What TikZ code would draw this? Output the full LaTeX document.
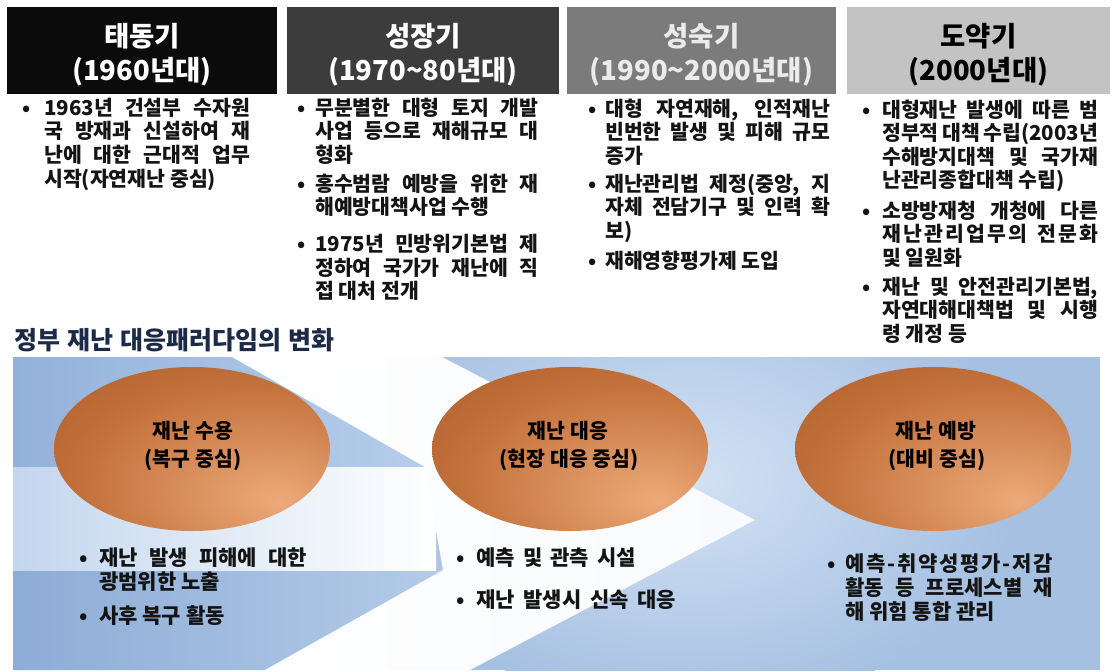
\documentclass[tikz,border=0pt]{standalone}
\usepackage{fontspec}
\setmainfont{Noto Sans CJK KR}
\usetikzlibrary{shapes.geometric}
\definecolor{hA}{HTML}{0B0B0B}
\definecolor{hB}{HTML}{3C3C3C}
\definecolor{hC}{HTML}{7B7B7B}
\definecolor{hD}{HTML}{C3C3C3}
\definecolor{txt}{HTML}{141414}
\definecolor{ttl}{HTML}{1C2A48}
\definecolor{pbase}{HTML}{A6C0E2}
\definecolor{pglow}{HTML}{D2E2F4}
\definecolor{ulL}{HTML}{93B2DA}
\definecolor{ulR}{HTML}{B6CDEA}
\definecolor{llL}{HTML}{8DACD6}
\definecolor{llR}{HTML}{B4CBE8}
\definecolor{bandL}{HTML}{C3D6EE}
\definecolor{ovL}{HTML}{ECAA7A}
\definecolor{ovM}{HTML}{C4723C}
\definecolor{ovD}{HTML}{96461A}
\pgfdeclareradialshading{ovalshade}{\pgfpoint{16bp}{-16bp}}{color(0bp)=(ovL); color(30bp)=(ovM); color(64bp)=(ovD); color(90bp)=(ovD)}
\tikzset{
  hbox/.style={rectangle, draw=none, minimum height=87pt, inner sep=0pt},
  htext/.style={font=\bfseries\fontsize{27.5}{34}\selectfont, align=center, inner sep=0pt},
  bt/.style={font=\bfseries\fontsize{20.5}{23}\selectfont, anchor=base west, inner sep=0pt, text=txt},
  bu/.style={font=\bfseries\fontsize{20.5}{23}\selectfont, anchor=base, inner sep=0pt, text=txt},
  lt/.style={font=\bfseries\fontsize{21}{24}\selectfont, anchor=base west, inner sep=0pt, text=txt},
  lu/.style={font=\bfseries\fontsize{21}{24}\selectfont, anchor=base, inner sep=0pt, text=txt},
  ot/.style={font=\bfseries\fontsize{20.5}{24}\selectfont, anchor=base, inner sep=0pt, text=black},
  oval/.style={ellipse, draw=none, minimum width=276pt, minimum height=164pt, inner sep=0pt, shading=ovalshade},
}
\begin{document}
\begin{tikzpicture}[x=1pt,y=-1pt]
\useasboundingbox (0,0) rectangle (1112,672);
\fill[white] (0,0) rectangle (1112,672);

% ---------- header boxes ----------
\node[hbox,fill=hA,minimum width=270pt] (hb1) at (142,50.5) {};
\node[hbox,fill=hB,minimum width=272pt] (hb2) at (423,50.5) {};
\node[hbox,fill=hC,minimum width=269pt] (hb3) at (701.5,50.5) {};
\node[hbox,fill=hD,minimum width=263pt] (hb4) at (978.5,50.5) {};
\node[htext,text=white] (ht1) at ([yshift=-4pt]hb1.center) {태동기\\(1960년대)};
\node[htext,text=white] (ht2) at ([yshift=-4pt]hb2.center) {성장기\\(1970\textasciitilde 80년대)};
\node[htext,text=white!92!black] (ht3) at ([yshift=-4pt]hb3.center) {성숙기\\(1990\textasciitilde 2000년대)};
\node[htext,text=black] (ht4) at ([yshift=-4pt]hb4.center) {도약기\\(2000년대)};

% ---------- column 1 ----------
\node[bu] (c1b1) at (27,115) {•};
\node[bt] (c1l1) at (44,115) {\makebox[206pt][s]{1963년 건설부 수자원}};
\node[bt] (c1l2) at (44,138.7) {\makebox[206pt][s]{국 방재과 신설하여 재}};
\node[bt] (c1l3) at (44,162.4) {\makebox[206pt][s]{난에 대한 근대적 업무}};
\node[bt] (c1l4) at (44,186.1) {시작(자연재난 중심)};

% ---------- column 2 ----------
\node[bu] (c2b1) at (302,115) {•};
\node[bt] (c2l1) at (315,115) {\makebox[223pt][s]{무분별한 대형 토지 개발}};
\node[bt] (c2l2) at (315,138.7) {\makebox[223pt][s]{사업 등으로 재해규모 대}};
\node[bt] (c2l3) at (315,162.4) {형화};
\node[bu] (c2b2) at (302,191) {•};
\node[bt] (c2l4) at (315,191) {\makebox[223pt][s]{홍수범람 예방을 위한 재}};
\node[bt] (c2l5) at (315,214.7) {해예방대책사업 수행};
\node[bu] (c2b3) at (302,251.5) {•};
\node[bt] (c2l6) at (315,251.5) {\makebox[223pt][s]{1975년 민방위기본법 제}};
\node[bt] (c2l7) at (315,275.2) {\makebox[223pt][s]{정하여 국가가 재난에 직}};
\node[bt] (c2l8) at (315,298.9) {접 대처 전개};

% ---------- column 3 ----------
\node[bu] (c3b1) at (593,116) {•};
\node[bt] (c3l1) at (605,116) {\makebox[225pt][s]{대형 자연재해, 인적재난}};
\node[bt] (c3l2) at (605,139.7) {\makebox[225pt][s]{빈번한 발생 및 피해 규모}};
\node[bt] (c3l3) at (605,163.4) {증가};
\node[bu] (c3b2) at (593,191) {•};
\node[bt] (c3l4) at (605,191) {\makebox[225pt][s]{재난관리법 제정(중앙, 지}};
\node[bt] (c3l5) at (605,214.7) {\makebox[225pt][s]{자체 전담기구 및 인력 확}};
\node[bt] (c3l6) at (605,238.4) {보)};
\node[bu] (c3b3) at (593,268.5) {•};
\node[bt] (c3l7) at (605,268.5) {재해영향평가제 도입};

% ---------- column 4 ----------
\node[bu] (c4b1) at (867,117) {•};
\node[bt] (c4l1) at (882,117) {\makebox[216pt][s]{대형재난 발생에 따른 범}};
\node[bt] (c4l2) at (882,140.5) {\makebox[216pt][s]{정부적 대책 수립(2003년}};
\node[bt] (c4l3) at (882,164) {\makebox[216pt][s]{수해방지대책 및 국가재}};
\node[bt] (c4l4) at (882,187.5) {난관리종합대책 수립)};
\node[bu] (c4b2) at (867,218) {•};
\node[bt] (c4l5) at (882,218) {\makebox[216pt][s]{소방방재청 개청에 다른}};
\node[bt] (c4l6) at (882,241.5) {\makebox[216pt][s]{재\hfil 난\hfil 관\hfil 리\hfil 업\hfil 무\hfil 의\hfil\ \hfil 전\hfil 문\hfil 화}};
\node[bt] (c4l7) at (882,265) {및 일원화};
\node[bu] (c4b3) at (867,294) {•};
\node[bt] (c4l8) at (882,294) {\makebox[216pt][s]{재난 및 안전관리기본법,}};
\node[bt] (c4l9) at (882,317.5) {\makebox[216pt][s]{자연대해대책법 및 시행}};
\node[bt] (c4l10) at (882,341) {령 개정 등};

% ---------- title ----------
\node[font=\bfseries\fontsize{25}{28}\selectfont, text=ttl, anchor=base west, inner sep=0pt] (title) at (14,349) {\makebox[320pt][s]{정부 재난 대응패러다임의 변화}};

% ---------- panel ----------
\begin{scope}
\clip (13,357) rectangle (1100,670);
\fill[pbase] (13,357) rectangle (1100,670);
\shade[inner color=pglow, outer color=pbase] (690,480) ellipse [x radius=330pt, y radius=230pt];
\shade[left color=ulL, right color=ulR] (13,357) -- (232,357) -- (425,467) -- (13,467) -- cycle;
\shade[left color=llL, right color=llR] (13,570) -- (443,570) -- (265,670) -- (13,670) -- cycle;
\shade[left color=bandL, right color=white] (13,467) rectangle (436,570);
\shade[left color=white, right color=white!92!pbase] (232,357) -- (442,357) -- (755,520) -- (470,670) -- (265,670) -- (443,570) -- (425,467) -- cycle;
\end{scope}

% ---------- ovals ----------
\node[oval] (o1) at (192,449) {};
\node[oval] (o2) at (570,449) {};
\node[oval] (o3) at (933,449) {};
\node[ot] (o1a) at (193,438) {재난 수용};
\node[ot] (o1b) at (193,466) {(복구 중심)};
\node[ot] (o2a) at (568,438) {재난 대응};
\node[ot] (o2b) at (569,466) {(현장 대응 중심)};
\node[ot] (o3a) at (936,438) {재난 예방};
\node[ot] (o3b) at (937,466) {(대비 중심)};

% ---------- bottom bullets ----------
\node[lu] (d1b1) at (84,565) {•};
\node[lt] (d1l1) at (99,565) {\makebox[208pt][s]{재난 발생 피해에 대한}};
\node[lt] (d1l2) at (99,589) {광범위한 노출};
\node[lu] (d1b2) at (84,623) {•};
\node[lt] (d1l3) at (99,623) {사후 복구 활동};

\node[lu] (d2b1) at (461,565) {•};
\node[lt] (d2l1) at (476,565) {\makebox[160pt][s]{예측 및 관측 시설}};
\node[lu] (d2b2) at (461,607) {•};
\node[lt] (d2l2) at (476,607) {\makebox[200pt][s]{재난 발생시 신속 대응}};

\node[lu] (d3b1) at (832,571) {•};
\node[lt] (d3l1) at (845,571) {\makebox[208pt][s]{예\hfil 측\hfil -\hfil 취\hfil 약\hfil 성\hfil 평\hfil 가\hfil -\hfil 저\hfil 감}};
\node[lt] (d3l2) at (845,595) {\makebox[208pt][s]{활동 등 프로세스별 재}};
\node[lt] (d3l3) at (845,619) {해 위험 통합 관리};
\end{tikzpicture}
\end{document}
